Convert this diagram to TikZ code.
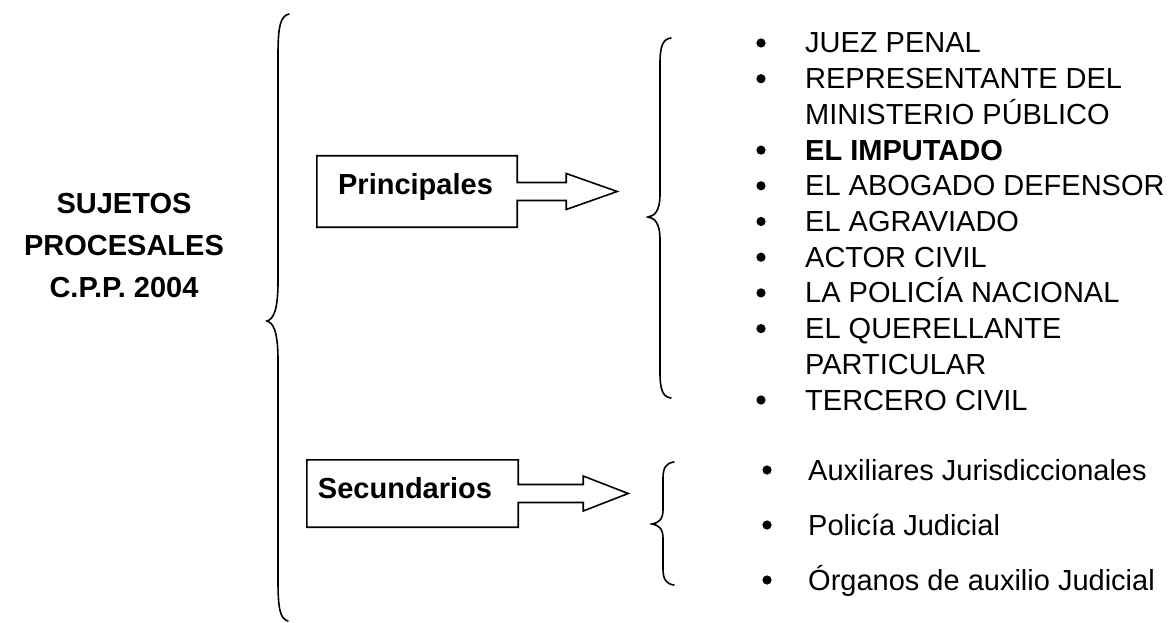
\documentclass[tikz,border=0pt]{standalone}
\usepackage{fontspec}
\setmainfont{Liberation Sans}
\usetikzlibrary{calc}
\begin{document}
\begin{tikzpicture}[x=1pt,y=-1pt,
  item/.style={anchor=base west,inner sep=0pt,font=\fontsize{29}{33}\selectfont},
  ttl/.style={anchor=base,inner sep=0pt,font=\fontsize{29}{33}\selectfont\bfseries},
  boxshape/.style={rectangle,inner sep=0pt,draw=none},
  brc/.style={line width=1.6pt,line cap=round},
  blk/.style={line width=1.6pt,line join=miter}]
\useasboundingbox (0,0) rectangle (1170,623);

% title
\node[ttl] (t1) at (124,213) {SUJETOS};
\node[ttl] (t2) at (124,255) {PROCESALES};
\node[ttl] (t3) at (124,297) {C.P.P. 2004};

% big brace
\draw[brc] (289,14) .. controls (280,16) and (278,28) .. (278,55)
  -- (278,281) .. controls (278,312) and (273,319) .. (267,321)
  .. controls (273,323) and (278,330) .. (278,361)
  -- (278,581) .. controls (278,608) and (280,619) .. (288,621);

% Principales box + block arrow
\node[boxshape,minimum width=200pt,minimum height=71pt] (pbox) at (417,191.5) {};
\node[ttl] (plbl) at (415.5,194) {Principales};
\coordinate (ptip) at ($(pbox.east)+(100,0)$);
\draw[blk] (pbox.north west) -- (pbox.north east) -- ($(pbox.east)+(0,-9)$)
  -- ($(pbox.east)+(49,-9)$) -- ($(pbox.east)+(49,-18)$) -- (ptip)
  -- ($(pbox.east)+(49,18)$) -- ($(pbox.east)+(49,9)$) -- ($(pbox.east)+(0,9)$)
  -- (pbox.south east) -- (pbox.south west) -- cycle;

% Secundarios box + block arrow
\node[boxshape,minimum width=211pt,minimum height=67pt] (sbox) at (412.5,493.5) {};
\node[ttl] (slbl) at (405,498) {Secundarios};
\coordinate (stip) at ($(sbox.east)+(110,0)$);
\draw[blk] (sbox.north west) -- (sbox.north east) -- ($(sbox.east)+(0,-9)$)
  -- ($(sbox.east)+(65,-9)$) -- ($(sbox.east)+(65,-17.5)$) -- (stip)
  -- ($(sbox.east)+(65,17.5)$) -- ($(sbox.east)+(65,9)$) -- ($(sbox.east)+(0,9)$)
  -- (sbox.south east) -- (sbox.south west) -- cycle;

% brace for principales
\draw[brc] (671,38) .. controls (663,39) and (660,46) .. (660,63)
  -- (660,194) .. controls (660,212) and (654,216) .. (648,217)
  .. controls (654,218) and (660,222) .. (660,240)
  -- (660,373) .. controls (660,390) and (663,397) .. (671,398);

% brace for secundarios
\draw[brc] (674,462) .. controls (666,463) and (663,468) .. (663,478)
  -- (663,510) .. controls (663,520) and (658,523) .. (652,524)
  .. controls (658,525) and (663,528) .. (663,538)
  -- (663,569) .. controls (663,579) and (666,584) .. (674,585);

% principal list (uniform line pitch 35.7)
\foreach \yy in {53,88.7,160.1,195.8,231.5,267.2,302.9,338.6,410}
  \fill (761,\yy-10) circle (4.6pt);
\node[item] (p1) at (805,53) {JUEZ PENAL};
\node[item] (p2) at (805,88.7) {REPRESENTANTE DEL};
\node[item] (p2b) at (805,124.4) {MINISTERIO PÚBLICO};
\node[item,font=\fontsize{29}{33}\selectfont\bfseries] (p3) at (805,160.1) {EL IMPUTADO};
\node[item] (p4) at (805,195.8) {EL ABOGADO DEFENSOR};
\node[item] (p5) at (805,231.5) {EL AGRAVIADO};
\node[item] (p6) at (805,267.2) {ACTOR CIVIL};
\node[item] (p7) at (805,302.9) {LA POLICÍA NACIONAL};
\node[item] (p8) at (805,338.6) {EL QUERELLANTE};
\node[item] (p8b) at (805,374.3) {PARTICULAR};
\node[item] (p9) at (805,410) {TERCERO CIVIL};

% secondary list
\foreach \yy in {480,535,590}
  \fill (767,\yy-10) circle (4.6pt);
\node[item] (s1) at (808,480) {Auxiliares Jurisdiccionales};
\node[item] (s2) at (808,535) {Policía Judicial};
\node[item] (s3) at (808,590) {Órganos de auxilio Judicial};
\end{tikzpicture}
\end{document}
